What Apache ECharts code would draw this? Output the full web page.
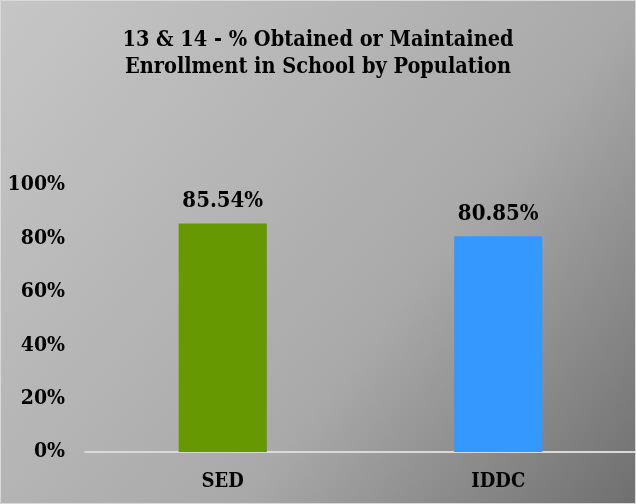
<!DOCTYPE html>
<html>
<head>
<meta charset="utf-8">
<script src="https://cdn.jsdelivr.net/npm/echarts@6/dist/echarts.min.js"></script>
<style>
  html, body { margin: 0; padding: 0; }
  #chart { width: 636px; height: 504px; }
</style>
</head>
<body>
<div id="chart"></div>
<script>
var titleText = '13 & 14 - % Obtained or Maintained\nEnrollment in School by Population';
var categories = ['SED', 'IDDC'];
var values = [85.54, 80.85];
var barColors = ['#669900', '#3399FF'];

var serif = '"DejaVu Serif Condensed", "DejaVu Serif", serif';
var myChart = echarts.init(document.getElementById('chart'));

var option = {
    // diagonal fill, getting dark near the bottom-right corner
    backgroundColor: {
        type: 'linear', x: 0, y: 0, x2: 1, y2: 1,
        colorStops: [
            {offset: 0, color: '#c6c6c6'},
            {offset: 0.386, color: '#b4b4b4'},
            {offset: 0.614, color: '#a9a9a9'},
            {offset: 1, color: '#6f6f6f'}
        ]
    },
    graphic: [{
        type: 'rect',
        shape: {x: 0.5, y: 0.5, width: 635, height: 503},
        style: {fill: 'none', stroke: '#d9d9d9', lineWidth: 1},
        silent: true
    }],
    title: {
        text: titleText,
        left: 'center',
        top: 22,
        textStyle: {
            fontFamily: serif,
            fontWeight: 'bold',
            fontSize: 21.5,
            lineHeight: 27,
            color: '#000'
        }
    },
    grid: {
        left: 85,
        right: 0,
        top: 185,
        bottom: 52
    },
    xAxis: {
        type: 'category',
        data: categories,
        axisLine: {lineStyle: {color: '#d9d9d9', width: 2}},
        axisTick: {show: false},
        axisLabel: {
            margin: 20,
            fontFamily: serif,
            fontWeight: 'bold',
            fontSize: 20,
            color: '#000'
        }
    },
    yAxis: {
        type: 'value',
        min: 0,
        max: 100,
        interval: 20,
        splitLine: {show: false},
        axisLine: {show: false},
        axisLabel: {
            margin: 20,
            formatter: '{value}%',
            fontFamily: serif,
            fontWeight: 'bold',
            fontSize: 21,
            color: '#000'
        }
    },
    series: [{
        type: 'bar',
        barWidth: '32%',
        data: values.map(function (v, i) {
            return {value: v, itemStyle: {color: barColors[i]}};
        }),
        label: {
            show: true,
            position: 'top',
            distance: 11,
            formatter: function (p) { return p.value.toFixed(2) + '%'; },
            fontFamily: serif,
            fontWeight: 'bold',
            fontSize: 22,
            color: '#000'
        }
    }]
};
myChart.setOption(option);
</script>
</body>
</html>
